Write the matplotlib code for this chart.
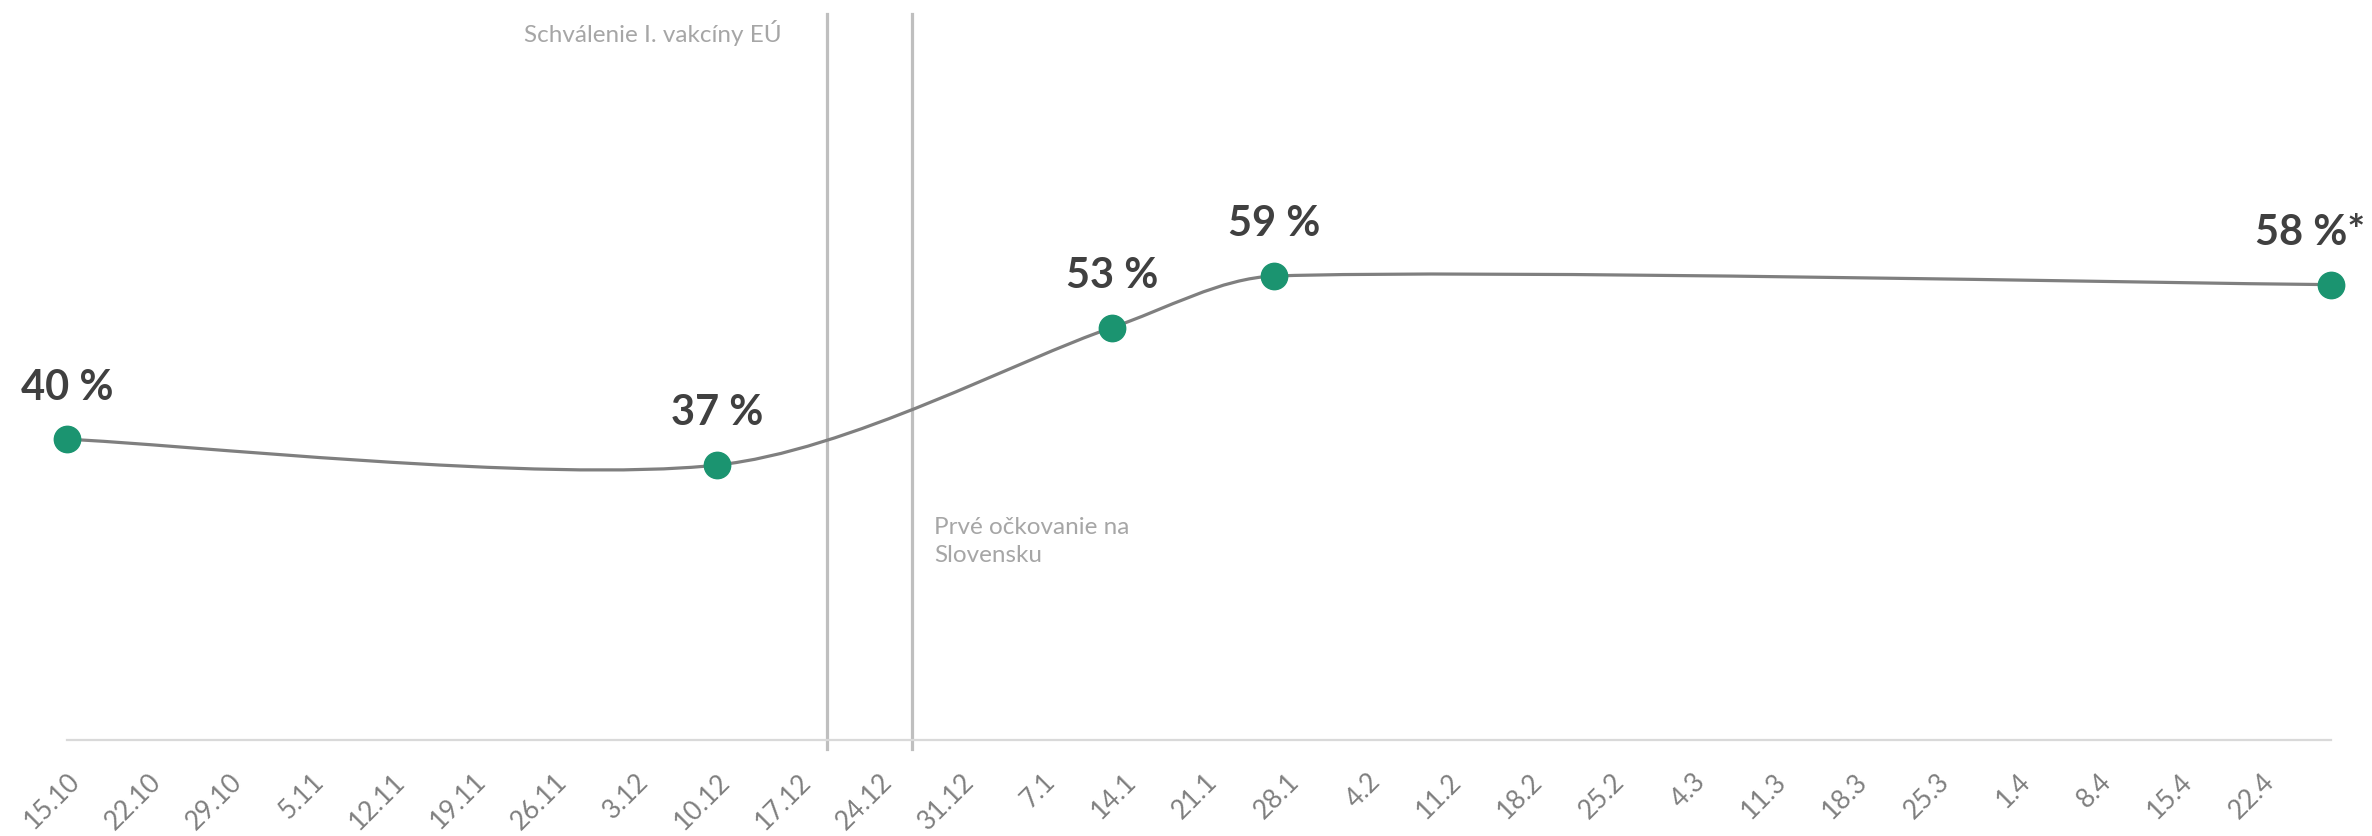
import datetime as dt
import numpy as np
import matplotlib
matplotlib.use('Agg')
import matplotlib.pyplot as plt
from matplotlib.path import Path
from matplotlib.patches import PathPatch

start = dt.datetime(2020, 10, 15)

tick_labels = ['15.10', '22.10', '29.10', '5.11', '12.11', '19.11', '26.11',
               '3.12', '10.12', '17.12', '24.12', '31.12', '7.1', '14.1',
               '21.1', '28.1', '4.2', '11.2', '18.2', '25.2', '4.3', '11.3',
               '18.3', '25.3', '1.4', '8.4', '15.4', '22.4']

point_dates = [dt.datetime(2020, 10, 15), dt.datetime(2020, 12, 10),
               dt.datetime(2021, 1, 13), dt.datetime(2021, 1, 27),
               dt.datetime(2021, 4, 28)]
point_values = [40, 37, 53, 59, 58]
point_labels = ['40 %', '37 %', '53 %', '59 %', '58 %*']

event_dates = [dt.datetime(2020, 12, 19, 10), dt.datetime(2020, 12, 26, 19)]
event_texts = ['Schválenie I. vakcíny EÚ', 'Prvé očkovanie na\nSlovensku']


def days(d):
    return (d - start).total_seconds() / 86400.0


x = np.array([days(d) for d in point_dates])
y = np.array(point_values, dtype=float)
tick_pos = np.arange(len(tick_labels)) * 7
event_x = [days(d) for d in event_dates]

green = '#1b9470'
line_gray = '#7f7f7f'
label_col = '#404040'
tick_col = '#7f7f7f'
note_col = '#a6a6a6'

plt.rcParams['font.family'] = ['Lato', 'DejaVu Sans']

fig = plt.figure(figsize=(23.72, 8.37), dpi=100)
ax = fig.add_axes([67 / 2372, 1 - 741 / 837, (2331 - 67) / 2372, (741 - 15) / 837])
ax.set_xlim(x[0], x[-1])
ax.set_ylim(5, 89.5)

# smoothed line (Catmull-Rom style bezier, tangents clipped per segment)
pts = np.column_stack([x, y])
ext = np.vstack([pts[0], pts, pts[-1]])
verts = [pts[0]]
codes = [Path.MOVETO]
for i in range(len(pts) - 1):
    p0, p1, p2, p3 = ext[i], ext[i + 1], ext[i + 2], ext[i + 3]
    h = p2[0] - p1[0]
    v1 = (p2 - p0) / 6.0
    v2 = (p3 - p1) / 6.0
    if v1[0] > h / 3:
        v1 = v1 * (h / 3) / v1[0]
    if v2[0] > h / 3:
        v2 = v2 * (h / 3) / v2[0]
    verts += [p1 + v1, p2 - v2, p2]
    codes += [Path.CURVE4] * 3
ax.add_patch(PathPatch(Path(verts, codes), facecolor='none', edgecolor=line_gray,
                       lw=2.3, capstyle='round', zorder=2))

ax.plot(x, y, 'o', color=green, ms=19, mec=green, zorder=4, clip_on=False)

for xi, yi, lab in zip(x, y, point_labels):
    dx = -15 if lab.endswith('*') else 0
    ax.annotate(lab, (xi, yi), xytext=(dx, 38), textcoords='offset points',
                ha='center', va='center', fontsize=30, fontweight='bold',
                color=label_col, zorder=5, annotation_clip=False)

for ex in event_x:
    ax.axvline(ex, ymin=-0.012, ymax=1, color='#bfbfbf', lw=2.3, zorder=1, clip_on=False)

trans = ax.get_xaxis_transform()
ax.annotate(event_texts[0], (event_x[0], 0.975), xycoords=trans,
            xytext=(-32, 0), textcoords='offset points', ha='right', va='center',
            fontsize=17.5, color=note_col)
ax.annotate(event_texts[1], (event_x[1], 0.275), xycoords=trans,
            xytext=(16, 0), textcoords='offset points', ha='left', va='center',
            fontsize=17.5, color=note_col, linespacing=1.38)

ax.set_xticks(tick_pos)
ax.set_xticklabels(tick_labels, rotation=45, ha='right', va='top',
                   rotation_mode='anchor', fontsize=19, color=tick_col)
ax.tick_params(axis='x', length=0, pad=20)
ax.set_yticks([])
for s in ['top', 'left', 'right']:
    ax.spines[s].set_visible(False)
ax.spines['bottom'].set_color('#d9d9d9')
ax.spines['bottom'].set_linewidth(1.6)

fig.savefig('out.png', dpi=100)
